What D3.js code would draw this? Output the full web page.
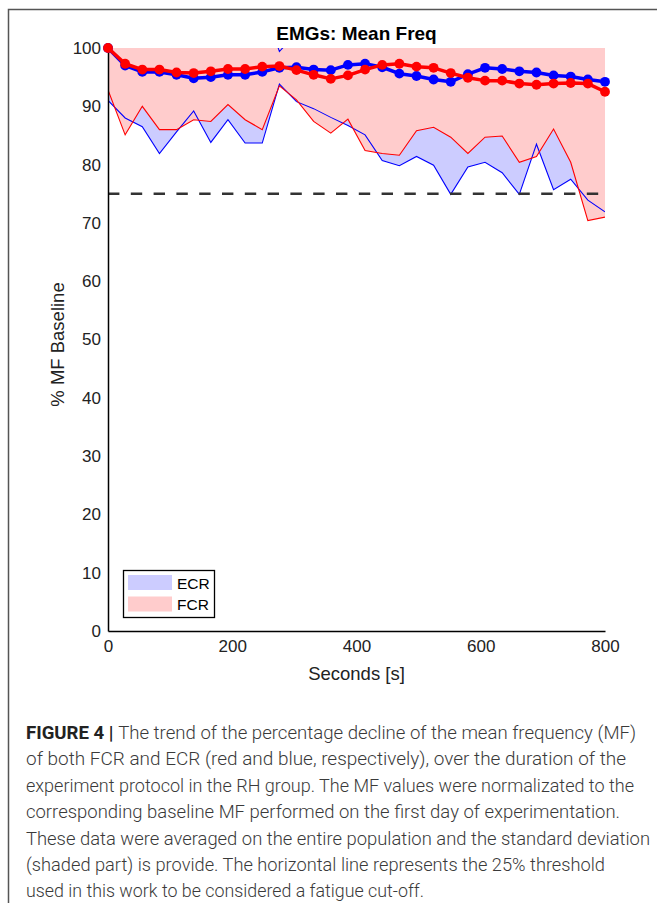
<!DOCTYPE html>
<html>
<head>
<meta charset="utf-8">
<script src="https://cdn.jsdelivr.net/npm/d3@7/dist/d3.min.js"></script>
<style>
  body { margin: 0; background: #fff; }
  svg { display: block; }
</style>
</head>
<body>
<svg id="fig" width="657" height="903"></svg>
<script>
// Sampling instants (s)
const seconds = [0, 27.6, 55.2, 82.8, 110.3, 137.9, 165.5, 193.1, 220.7, 248.3,
                 275.9, 303.4, 331.0, 358.6, 386.2, 413.8, 441.4, 469.0, 496.6, 524.1,
                 551.7, 579.3, 606.9, 634.5, 662.1, 689.7, 717.2, 744.8, 772.4, 800];

// ECR: mean MF (% of baseline) and standard deviation
const ecrMean = [100, 97.0, 95.9, 95.9, 95.4, 94.8, 95.0, 95.4, 95.4, 95.9,
                 96.6, 96.7, 96.3, 96.2, 97.1, 97.3, 96.7, 95.6, 95.2, 94.6,
                 94.2, 95.5, 96.6, 96.4, 96.0, 95.8, 95.3, 95.1, 94.6, 94.2];
const ecrSd   = [9.0, 9.0, 9.4, 14.0, 9.8, 5.6, 11.2, 7.7, 11.7, 12.2,
                 2.8, 5.9, 6.7, 8.1, 10.4, 12.2, 16.0, 15.8, 13.8, 14.7,
                 19.3, 15.9, 16.2, 17.8, 21.1, 12.3, 19.6, 17.6, 20.7, 22.3];

// FCR: mean MF (% of baseline) and standard deviation
const fcrMean = [100, 97.3, 96.3, 96.3, 95.8, 95.7, 96.0, 96.4, 96.4, 96.8,
                 96.9, 96.2, 95.4, 94.7, 95.3, 96.3, 97.1, 97.3, 96.8, 96.6,
                 95.7, 94.9, 94.4, 94.4, 93.9, 93.7, 93.9, 94.0, 93.9, 92.5];
const fcrSd   = [7.2, 12.2, 6.3, 10.3, 9.8, 8.0, 8.6, 6.1, 8.7, 10.8,
                 3.4, 5.1, 8.0, 9.3, 7.5, 13.9, 15.2, 15.7, 11.0, 10.2,
                 11.0, 13.0, 9.7, 9.5, 13.5, 12.3, 7.8, 13.6, 23.5, 21.5];

const fatigueThreshold = 75;
const xTicks = [0, 200, 400, 600, 800];
const yTicks = [0, 10, 20, 30, 40, 50, 60, 70, 80, 90, 100];
const legendLabels = ["ECR", "FCR"];

const captionLines = [
  ["FIGURE 4 | ", "The trend of the percentage decline of the mean frequency (MF)"],
  ["", "of both FCR and ECR (red and blue, respectively), over the duration of the"],
  ["", "experiment protocol in the RH group. The MF values were normalizated to the"],
  ["", "corresponding baseline MF performed on the first day of experimentation."],
  ["", "These data were averaged on the entire population and the standard deviation"],
  ["", "(shaded part) is provide. The horizontal line represents the 25% threshold"],
  ["", "used in this work to be considered a fatigue cut-off."]
];
const captionWidths = [610, 600, 608, 594, 624, 579, 398];

// ---- layout ----
const plot = { left: 108, right: 605, top: 48, bottom: 631 };
const font = "'Liberation Sans', Arial, Helvetica, sans-serif";
const BLUE = "#0000ff", RED = "#ff0000";
const BLUE_FILL = "#ccccff", RED_FILL = "#ffcccc";

const svg = d3.select("#fig");

// outer figure frame
svg.append("path")
  .attr("d", "M8.5,903 V9.5 H657")
  .attr("fill", "none").attr("stroke", "#555").attr("stroke-width", 1.5);

const x = d3.scaleLinear().domain([0, 800]).range([plot.left, plot.right]);
const y = d3.scaleLinear().domain([0, 100]).range([plot.bottom, plot.top]);

svg.append("clipPath").attr("id", "plotClip")
  .append("rect")
  .attr("x", plot.left).attr("y", plot.top)
  .attr("width", plot.right - plot.left).attr("height", plot.bottom - plot.top);

const bands = svg.append("g").attr("clip-path", "url(#plotClip)");

function band(mean, sd) {
  return seconds.map((t, i) => ({ t, lo: mean[i] - sd[i], hi: mean[i] + sd[i] }));
}
const ecrBand = band(ecrMean, ecrSd);
const fcrBand = band(fcrMean, fcrSd);

const area = d3.area().x(d => x(d.t)).y0(d => y(d.lo)).y1(d => y(d.hi));
const loLine = d3.line().x(d => x(d.t)).y(d => y(d.lo));
const hiLine = d3.line().x(d => x(d.t)).y(d => y(d.hi));

// shaded SD bands
bands.append("path").datum(ecrBand).attr("d", area).attr("fill", BLUE_FILL);
bands.append("path").datum(fcrBand).attr("d", area).attr("fill", RED_FILL);

// band edges
[[ecrBand, BLUE], [fcrBand, RED]].forEach(([b, c]) => {
  bands.append("path").datum(b).attr("d", loLine)
    .attr("fill", "none").attr("stroke", c).attr("stroke-width", 1.1);
  bands.append("path").datum(b).attr("d", hiLine)
    .attr("fill", "none").attr("stroke", c).attr("stroke-width", 1.1);
});

// 25% fatigue threshold
svg.append("line")
  .attr("x1", x(0)).attr("x2", x(800))
  .attr("y1", y(fatigueThreshold)).attr("y2", y(fatigueThreshold))
  .attr("stroke", "#333").attr("stroke-width", 2.6)
  .attr("stroke-dasharray", "11.4 11.4");

// axes (no tick marks, only baseline + labels)
const xAxis = d3.axisBottom(x).tickValues(xTicks).tickSize(0).tickPadding(9);
const yAxis = d3.axisLeft(y).tickValues(yTicks).tickSize(0).tickPadding(7);

const gx = svg.append("g").attr("transform", `translate(0,${plot.bottom})`).call(xAxis);
const gy = svg.append("g").attr("transform", `translate(${plot.left},0)`).call(yAxis);
[gx, gy].forEach(g => {
  g.select(".domain").attr("stroke", "#000").attr("stroke-width", 1.5);
  g.selectAll("text").attr("font-family", font).attr("font-size", 17).attr("fill", "#222");
});

// mean curves
const meanLine = d3.line().x((d, i) => x(seconds[i])).y(d => y(d));
[[ecrMean, BLUE], [fcrMean, RED]].forEach(([m, c]) => {
  svg.append("path").datum(m).attr("d", meanLine)
    .attr("fill", "none").attr("stroke", c).attr("stroke-width", 3.5)
    .attr("stroke-linejoin", "round");
  svg.append("g").selectAll("circle").data(m).join("circle")
    .attr("cx", (d, i) => x(seconds[i])).attr("cy", d => y(d))
    .attr("r", 4.9).attr("fill", c);
});

// title and axis labels
svg.append("text")
  .attr("x", (plot.left + plot.right) / 2).attr("y", 40)
  .attr("text-anchor", "middle").attr("font-family", font)
  .attr("font-weight", "bold").attr("font-size", 19).attr("fill", "#000")
  .text("EMGs: Mean Freq");

svg.append("text")
  .attr("x", (plot.left + plot.right) / 2).attr("y", 680)
  .attr("text-anchor", "middle").attr("font-family", font)
  .attr("font-size", 18.5).attr("fill", "#222")
  .text("Seconds [s]");

svg.append("text")
  .attr("transform", `translate(64,${(plot.top + plot.bottom) / 2 + 5}) rotate(-90)`)
  .attr("text-anchor", "middle").attr("font-family", font)
  .attr("font-size", 18.5).attr("fill", "#222")
  .text("% MF Baseline");

// legend
const legend = svg.append("g");
legend.append("rect")
  .attr("x", 123.5).attr("y", 570.5).attr("width", 91).attr("height", 47)
  .attr("fill", "#fff").attr("stroke", "#000").attr("stroke-width", 1.3);
[BLUE_FILL, RED_FILL].forEach((c, i) => {
  legend.append("rect")
    .attr("x", 128).attr("y", 575 + i * 21.5).attr("width", 44).attr("height", 15)
    .attr("fill", c);
  legend.append("text")
    .attr("x", 177).attr("y", 588.5 + i * 21.5)
    .attr("font-family", font).attr("font-size", 15.5).attr("fill", "#000")
    .text(legendLabels[i]);
});

// caption
const cap = svg.append("g").attr("font-family", "Roboto, 'Liberation Sans', sans-serif")
  .attr("font-size", 17.5).attr("fill", "#3a3a3a");
captionLines.forEach((parts, i) => {
  const t = cap.append("text")
    .attr("x", 26).attr("y", 739 + i * 26.4)
    .attr("textLength", captionWidths[i]).attr("lengthAdjust", "spacingAndGlyphs");
  if (parts[0]) t.append("tspan").attr("font-weight", "bold").attr("fill", "#222").text(parts[0]);
  t.append("tspan").attr("font-weight", 300).text(parts[1]);
});
</script>
</body>
</html>
